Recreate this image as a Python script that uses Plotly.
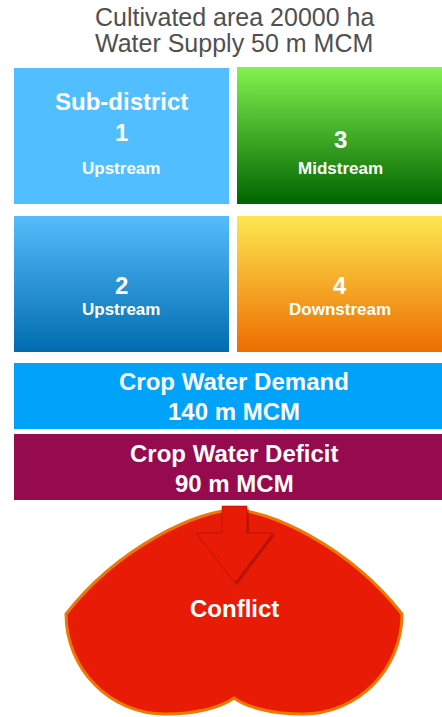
import plotly.graph_objects as go

# ---- data ----
cultivated_area_ha = 20000
water_supply_mcm = 50
crop_water_demand_mcm = 140
crop_water_deficit_mcm = 90
district_numbers = ["1", "2", "3", "4"]
district_locations = ["Upstream", "Upstream", "Midstream", "Downstream"]
outcome_label = "Conflict"

W, H = 442, 717
FONT = "Liberation Sans, Arial, Helvetica, sans-serif"

fig = go.Figure()


def rect(x0, y0, x1, y1, color=None, grad=None):
    kw = dict(
        x=[x0, x1, x1, x0, x0], y=[y0, y0, y1, y1, y0],
        mode="lines", fill="toself", line=dict(width=0),
        hoverinfo="skip", showlegend=False,
    )
    if grad:
        kw["fillgradient"] = dict(type="vertical", start=y0, stop=y1,
                                  colorscale=[[0, grad[0]], [1, grad[1]]])
    else:
        kw["fillcolor"] = color
    fig.add_trace(go.Scatter(**kw))


# sub-district boxes
rect(14, 68, 229, 204, color="rgb(80,190,255)")
rect(237, 67, 442, 204, grad=("rgb(130,242,78)", "rgb(0,100,0)"))
rect(14, 216, 229, 352, grad=("rgb(86,188,252)", "rgb(0,108,175)"))
rect(237, 216, 442, 352, grad=("rgb(252,232,80)", "rgb(238,108,0)"))
# demand / deficit
rect(14, 363, 442, 429, color="rgb(0,162,250)")
rect(14, 434, 442, 500, color="rgb(150,10,80)")

shapes = []
# heart-like conflict shape
heart = ("M 234 510 C 200 510 120 545 66 614 "
         "C 66 669 110 714 165 714 "
         "C 195 714 220 708 234 698 "
         "C 248 708 273 714 303 714 "
         "C 358 714 402 669 402 614 "
         "C 348 545 268 510 234 510 Z")
shapes.append(dict(type="path", path=heart, xref="x", yref="y",
                   fillcolor="rgb(232,28,6)", line=dict(color="rgb(240,120,0)", width=3)))
# arrow shadow
arrow_shadow = "M 224 508 L 249 508 L 249 535 L 275 535 L 237 585 L 198 535 L 224 535 Z"
shapes.append(dict(type="path", path=arrow_shadow, xref="x", yref="y",
                   fillcolor="rgba(90,0,0,0.3)", line=dict(width=0)))
arrow = "M 222 506 L 247 506 L 247 533 L 273 533 L 235 583 L 196 533 L 222 533 Z"
shapes.append(dict(type="path", path=arrow, xref="x", yref="y",
                   fillcolor="rgb(232,28,6)", line=dict(color="rgba(150,10,0,0.5)", width=1)))

ann = []


def txt(x, y, s, size, color="white", bold=True):
    ann.append(dict(x=x, y=y, xref="x", yref="y", text=f"<b>{s}</b>" if bold else s,
                    showarrow=False, xanchor="center", yanchor="middle",
                    font=dict(family=FONT, size=size, color=color)))


txt(234, 17, f"Cultivated area {cultivated_area_ha} ha", 25, color="rgb(80,80,80)", bold=False)
txt(234, 43, f"Water Supply {water_supply_mcm} m MCM", 25, color="rgb(80,80,80)", bold=False)

txt(121, 101, "Sub-district", 24)
txt(121, 132, district_numbers[0], 24)
txt(121, 168, district_locations[0], 17)
txt(340, 139, district_numbers[2], 24)
txt(340, 168, district_locations[2], 17)
txt(121, 285, district_numbers[1], 24)
txt(121, 309, district_locations[1], 17)
txt(340, 285, district_numbers[3], 24)
txt(340, 309, district_locations[3], 17)

txt(234, 381, "Crop Water Demand", 24)
txt(234, 411, f"{crop_water_demand_mcm} m MCM", 24)
txt(234, 453, "Crop Water Deficit", 24)
txt(234, 483, f"{crop_water_deficit_mcm} m MCM", 24)
txt(234, 608, outcome_label, 24)

fig.update_layout(
    width=W, height=H,
    margin=dict(l=0, r=0, t=0, b=0),
    paper_bgcolor="white", plot_bgcolor="white",
    xaxis=dict(range=[0, W], visible=False, fixedrange=True),
    yaxis=dict(range=[H, 0], visible=False, fixedrange=True),
    shapes=shapes, annotations=ann, showlegend=False,
)

fig.write_html("out.html", config={"displayModeBar": False},
               post_script="document.body.style.margin='0px';document.body.style.overflow='hidden';")
